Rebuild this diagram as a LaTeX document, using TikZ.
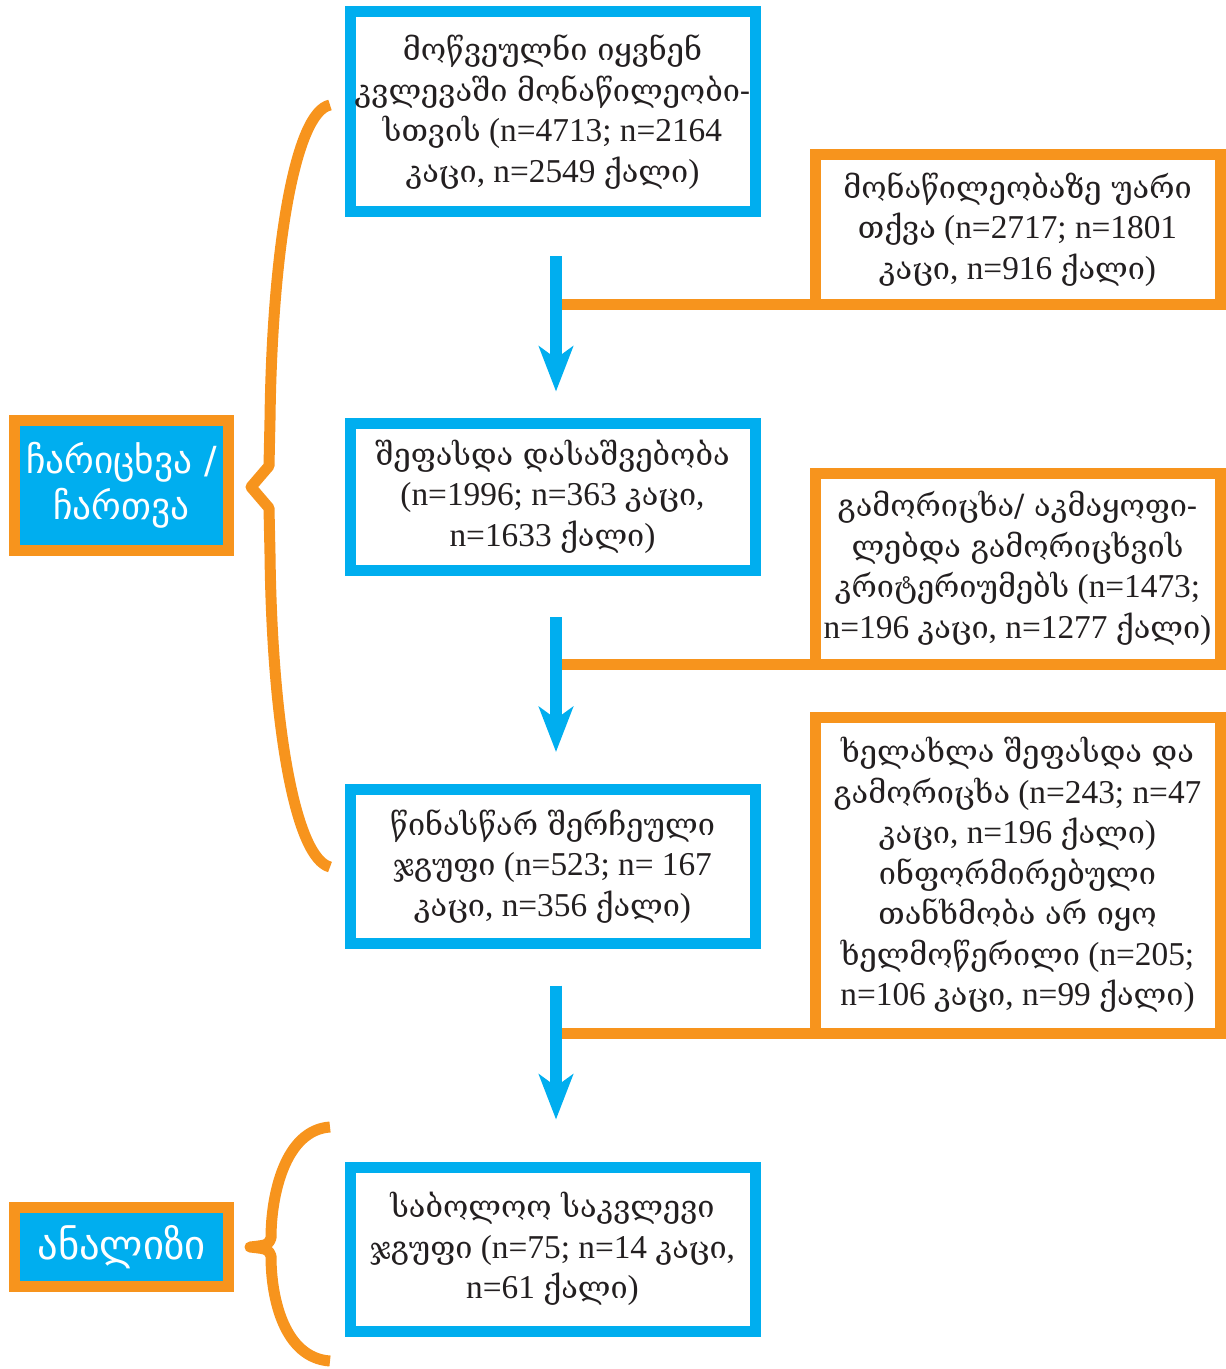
\documentclass[tikz,border=0pt]{standalone}
\usepackage{fontspec}
\setmainfont{Liberation Serif}
\newfontfamily\geo[Scale=0.92]{DejaVu Serif}
\newfontfamily\geosans{DejaVu Sans}
\usetikzlibrary{arrows.meta,calc}
\definecolor{cyanb}{HTML}{00AEEF}
\definecolor{orng}{HTML}{F7941D}
\definecolor{ink}{HTML}{231F20}
\newcommand\kg[1]{{\geo #1}}
\begin{document}
\begin{tikzpicture}[x=0.75pt,y=-0.75pt,
  bluebox/.style={draw=cyanb,line width=8.25pt,fill=white,text=ink,align=center,inner sep=0pt,
    minimum width=303.75pt,font=\fontsize{25}{30.4}\selectfont},
  orangebox/.style={bluebox,draw=orng},
  labelbox/.style={draw=orng,fill=cyanb,line width=8.25pt,text=white,align=center,inner sep=0pt,
    minimum width=160.5pt},
  flow/.style={draw=cyanb,line width=8.5pt,-{Stealth[length=33.75pt,width=25.5pt,inset=9pt]}},
  conn/.style={draw=orng,line width=8.25pt},
  bracket/.style={draw=orng,line width=8.25pt,line join=round}
]
\useasboundingbox (0,0) rectangle (1225,1369);

% main flow boxes
\node[bluebox,minimum height=150pt] (b1) at (552.5,112)
  {\kg{მოწვეულნი იყვნენ}\\\kg{კვლევაში მონაწილეობი-}\\\kg{სთვის} (n=4713; n=2164\\\kg{კაცი}, n=2549 \kg{ქალი})};
\node[orangebox,minimum height=112.5pt] (b2) at (1017.5,229.5)
  {\kg{მონაწილეობაზე უარი}\\\kg{თქვა} (n=2717; n=1801\\\kg{კაცი}, n=916 \kg{ქალი})};
\node[bluebox,minimum height=110.625pt] (b3) at (552.5,496.75)
  {\kg{შეფასდა დასაშვებობა}\\(n=1996; n=363 \kg{კაცი},\\n=1633 \kg{ქალი})};
\node[orangebox,minimum height=143.25pt] (b4) at (1017.5,568.5)
  {\kg{გამორიცხა/ აკმაყოფი-}\\\kg{ლებდა გამორიცხვის}\\\kg{კრიტერიუმებს} (n=1473;\\n=196 \kg{კაცი}, n=1277 \kg{ქალი})};
\node[bluebox,minimum height=115.125pt] (b5) at (552.5,866.25)
  {\kg{წინასწარ შერჩეული}\\\kg{ჯგუფი} (n=523; n= 167\\\kg{კაცი}, n=356 \kg{ქალი})};
\node[orangebox,minimum height=237pt] (b6) at (1017.5,875)
  {\kg{ხელახლა შეფასდა და}\\\kg{გამორიცხა} (n=243; n=47\\\kg{კაცი}, n=196 \kg{ქალი})\\\kg{ინფორმირებული}\\\kg{თანხმობა არ იყო}\\\kg{ხელმოწერილი} (n=205;\\n=106 \kg{კაცი}, n=99 \kg{ქალი})};
\node[bluebox,minimum height=123.375pt] (b7) at (552.5,1249.25)
  {\kg{საბოლოო საკვლევი}\\\kg{ჯგუფი} (n=75; n=14 \kg{კაცი},\\n=61 \kg{ქალი})};

% stage labels
\node[labelbox,minimum height=97.5pt,font=\geosans\fontsize{28}{34.5}\selectfont] (l1) at (121.5,485.5) {ჩარიცხვა /\\ჩართვა};
\node[labelbox,minimum height=59.25pt,font=\geosans\fontsize{30.5}{34.5}\selectfont] (l2) at (121.5,1247) {ანალიზი};

% junctions of exclusion connectors
\coordinate (j1) at (556,304.5);
\coordinate (j2) at (556,664);
\coordinate (j3) at (556,1033);
\draw[conn] (j1) -- (j1 -| b2.west);
\draw[conn] (j2) -- (j2 -| b4.west);
\draw[conn] (j3) -- (j3 -| b6.west);

% flow arrows
\draw[flow] ($(b1.south)+(3.5,39)$) -- ($(b3.north)+(3.5,-26)$);
\draw[flow] ($(b3.south)+(3.5,41)$) -- ($(b5.north)+(3.5,-32)$);
\draw[flow] ($(b5.south)+(3.5,37)$) -- ($(b7.north)+(3.5,-42)$);

% brackets
\draw[bracket] (330,105) .. controls (295,112) and (272,250) .. (270,420)
  -- (269,466) -- (251,487) -- (269,508)
  -- (270,554) .. controls (272,724) and (295,858) .. (330,867);
\draw[bracket] (330,1127) .. controls (285,1130) and (271,1195) .. (271,1238)
  .. controls (268,1245) .. (250,1247) .. controls (268,1249) .. (271,1256)
  .. controls (271,1300) and (285,1358) .. (330,1361);
\end{tikzpicture}
\end{document}
